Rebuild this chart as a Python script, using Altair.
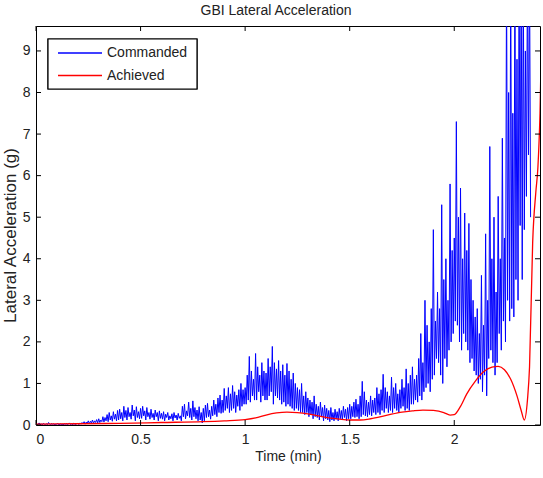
import altair as alt
import pandas as pd

# Commanded lateral acceleration (g), sampled every 0.005 min from t = 0
cmd_step = 0.005
commanded = [
    0.03, 0.00, 0.02, 0.05, 0.01, 0.03, 0.00, 0.04, 0.02, 0.00, 0.03, 0.01, 0.06, 0.02, 0.00, 0.04, 0.01, 0.03, 0.00, 0.02,
    0.02, 0.04, 0.00, 0.03, 0.01, 0.02, 0.00, 0.03, 0.01, 0.04, 0.00, 0.02, 0.05, 0.01, 0.03, 0.00, 0.04, 0.02, 0.01, 0.03,
    0.04, 0.01, 0.05, 0.02, 0.06, 0.03, 0.08, 0.02, 0.07, 0.04, 0.10, 0.03, 0.09, 0.05, 0.12, 0.04, 0.10, 0.06, 0.13, 0.05,
    0.15, 0.06, 0.12, 0.08, 0.20, 0.07, 0.18, 0.10, 0.25, 0.08, 0.30, 0.12, 0.22, 0.09, 0.32, 0.14, 0.26, 0.10, 0.35, 0.12,
    0.38, 0.15, 0.30, 0.10, 0.45, 0.18, 0.35, 0.12, 0.42, 0.20, 0.30, 0.14, 0.48, 0.22, 0.36, 0.10, 0.44, 0.18, 0.32, 0.15,
    0.40, 0.16, 0.45, 0.22, 0.34, 0.12, 0.42, 0.20, 0.30, 0.14, 0.38, 0.18, 0.28, 0.12, 0.36, 0.20, 0.30, 0.10, 0.34, 0.16,
    0.28, 0.14, 0.32, 0.10, 0.26, 0.18, 0.30, 0.12, 0.22, 0.15, 0.27, 0.10, 0.30, 0.17, 0.24, 0.12, 0.28, 0.16, 0.22, 0.10,
    0.45, 0.20, 0.50, 0.15, 0.34, 0.22, 0.55, 0.18, 0.40, 0.12, 0.58, 0.20, 0.42, 0.15, 0.36, 0.10, 0.44, 0.12, 0.30, 0.05,
    0.40, 0.10, 0.48, 0.18, 0.52, 0.20, 0.36, 0.14, 0.45, 0.22, 0.60, 0.25, 0.50, 0.20, 0.65, 0.30, 0.72, 0.28, 0.60, 0.30,
    0.88, 0.35, 0.70, 0.40, 0.90, 0.30, 0.75, 0.35, 0.95, 0.40, 0.80, 0.30, 0.72, 0.45, 0.85, 0.35, 1.00, 0.45, 0.85, 0.50,
    0.90, 0.50, 1.20, 0.60, 1.65, 0.55, 1.30, 0.70, 1.10, 0.60, 1.72, 0.60, 1.40, 0.80, 1.20, 0.55, 1.50, 0.70, 1.30, 0.60,
    1.25, 0.60, 1.60, 0.70, 1.40, 0.80, 1.89, 0.50, 1.50, 0.70, 1.35, 0.65, 1.55, 0.60, 1.30, 0.50, 1.45, 0.55, 1.20, 0.45,
    1.48, 0.50, 1.30, 0.45, 1.10, 0.40, 1.25, 0.35, 1.00, 0.40, 0.90, 0.35, 0.85, 0.30, 1.00, 0.30, 0.70, 0.25, 0.80, 0.30,
    0.65, 0.20, 0.60, 0.25, 0.55, 0.15, 0.70, 0.20, 0.50, 0.18, 0.45, 0.12, 0.55, 0.20, 0.42, 0.10, 0.48, 0.15, 0.40, 0.12,
    0.35, 0.08, 0.42, 0.12, 0.30, 0.10, 0.38, 0.14, 0.32, 0.10, 0.40, 0.15, 0.35, 0.12, 0.45, 0.18, 0.38, 0.10, 0.42, 0.15,
    0.50, 0.15, 0.45, 0.20, 0.55, 0.18, 0.62, 0.20, 0.50, 0.15, 0.70, 0.20, 1.05, 0.25, 0.80, 0.22, 0.60, 0.20, 0.55, 0.25,
    0.70, 0.22, 0.60, 0.30, 0.65, 0.25, 0.90, 0.30, 0.75, 0.25, 0.85, 0.35, 1.22, 0.30, 0.90, 0.40, 0.80, 0.30, 0.70, 0.35,
    1.15, 0.30, 0.90, 0.40, 1.00, 0.35, 0.75, 0.30, 0.85, 0.40, 1.10, 0.45, 0.90, 0.35, 1.35, 0.40, 1.00, 0.35, 1.20, 0.50,
    1.40, 0.50, 1.10, 0.60, 1.20, 0.55, 1.60, 0.70, 2.20, 0.60, 1.50, 0.80, 3.00, 0.90, 2.40, 1.00, 2.00, 0.80, 2.80, 1.10,
    4.70, 1.20, 2.50, 1.60, 3.20, 1.50, 2.80, 1.20, 5.30, 1.00, 3.50, 1.60, 4.00, 1.40, 3.00, 1.80, 5.80, 2.00, 4.20, 2.20,
    4.50, 2.50, 7.30, 2.40, 5.00, 2.00, 5.70, 1.80, 4.00, 2.20, 5.10, 2.00, 4.20, 1.80, 4.85, 1.50, 3.50, 1.60, 3.00, 1.30,
    2.60, 1.20, 2.80, 1.00, 2.20, 1.10, 3.60, 0.80, 2.40, 1.20, 4.60, 0.70, 3.00, 1.60, 6.70, 1.80, 4.00, 1.50, 5.00, 1.20,
    3.20, 1.50, 5.50, 2.20, 4.00, 1.80, 6.90, 2.50, 4.50, 2.00, 11.0, 3.00, 8.00, 2.50, 11.0, 2.80, 7.50, 2.60, 11.0, 3.50,
    8.80, 3.00, 11.0, 4.80, 11.0, 3.50, 11.0, 4.70, 9.00, 5.50, 11.0, 6.50, 11.0, 5.00,
]

# Achieved lateral acceleration (g)
achieved_t = [0.0, 0.2, 0.4, 0.6, 0.8, 0.9, 1.0, 1.05, 1.1, 1.15, 1.2, 1.25,
              1.3, 1.35, 1.4, 1.45, 1.5, 1.55, 1.6, 1.65, 1.7, 1.75, 1.8,
              1.85, 1.9, 1.95, 1.98, 2.0, 2.03, 2.06, 2.1, 2.14, 2.18, 2.21,
              2.24, 2.27, 2.3, 2.32, 2.335, 2.35, 2.36, 2.375, 2.39, 2.40,
              2.41, 2.42]
achieved_g = [0.02, 0.03, 0.04, 0.06, 0.08, 0.10, 0.13, 0.17, 0.24, 0.29,
              0.31, 0.30, 0.27, 0.22, 0.17, 0.14, 0.12, 0.12, 0.15, 0.20,
              0.26, 0.31, 0.34, 0.36, 0.35, 0.30, 0.24, 0.25, 0.45, 0.75,
              1.05, 1.28, 1.39, 1.41, 1.33, 1.10, 0.70, 0.35, 0.12, 0.60,
              1.40, 4.40, 5.60, 6.20, 7.50, 10.0]

series = ["Commanded", "Achieved"]
colors = ["#0000ff", "#ff0000"]
x_ticks = [0, 0.5, 1, 1.5, 2]
y_ticks = list(range(10))

cmd_df = pd.DataFrame({
    "t": [round(i * cmd_step, 4) for i in range(len(commanded))],
    "g": commanded,
})
ach_df = pd.DataFrame({"t": achieved_t, "g": achieved_g})

W, H = 504, 399
FONT = "Liberation Sans"
xs = alt.Scale(domain=[0, 2.41], nice=False, zero=False)
ys = alt.Scale(domain=[0, 9.6], nice=False)

x_axis = alt.Axis(values=x_ticks, format="~g", ticks=False, domain=False,
                  grid=False, labelPadding=7, labelFontSize=14,
                  labelColor="#222", title="Time (min)", titleFontSize=14,
                  titleFontWeight="normal", titleColor="#222", titlePadding=3)
y_axis = alt.Axis(values=y_ticks, format="~g", ticks=False, domain=False,
                  grid=False, labelPadding=6, labelFontSize=14,
                  labelColor="#222", title="Lateral Acceleration (g)",
                  titleFontSize=17, titleFontWeight="normal",
                  titleColor="#222", titlePadding=3, titleY=209)

cmd_line = alt.Chart(cmd_df).mark_line(
    color=colors[0], strokeWidth=1, clip=True, interpolate="linear"
).encode(
    x=alt.X("t:Q", scale=xs, axis=x_axis),
    y=alt.Y("g:Q", scale=ys, axis=y_axis),
)

ach_line = alt.Chart(ach_df).mark_line(
    color=colors[1], strokeWidth=1.3, clip=True, interpolate="monotone"
).encode(
    x=alt.X("t:Q", scale=xs),
    y=alt.Y("g:Q", scale=ys),
)

# Inward tick marks on all four sides of the box
xt = pd.DataFrame({"t": x_ticks})
yt = pd.DataFrame({"g": y_ticks})
tick_style = dict(color="black", strokeWidth=1)
bottom_ticks = alt.Chart(xt).mark_rule(**tick_style).encode(
    x=alt.X("t:Q", scale=xs), y=alt.value(H), y2=alt.value(H - 5))
top_ticks = alt.Chart(xt).mark_rule(**tick_style).encode(
    x=alt.X("t:Q", scale=xs), y=alt.value(0), y2=alt.value(5))
left_ticks = alt.Chart(yt).mark_rule(**tick_style).encode(
    y=alt.Y("g:Q", scale=ys), x=alt.value(0), x2=alt.value(5))
right_ticks = alt.Chart(yt).mark_rule(**tick_style).encode(
    y=alt.Y("g:Q", scale=ys), x=alt.value(W - 5), x2=alt.value(W))

# Legend box in the upper-left corner
legend_box = alt.Chart(pd.DataFrame({"name": series})).mark_rect(
    fill="white", stroke="black", strokeWidth=1.2
).encode(x=alt.value(12), x2=alt.value(161), y=alt.value(13), y2=alt.value(63))

legend_layers = [legend_box]
for i, (name, col) in enumerate(zip(series, colors)):
    row_y = 27 + 22.5 * i
    entry = pd.DataFrame({"name": [name]})
    legend_layers.append(
        alt.Chart(entry).mark_rule(color=col, strokeWidth=1.3).encode(
            x=alt.value(22), x2=alt.value(66), y=alt.value(row_y)))
    legend_layers.append(
        alt.Chart(entry).mark_text(
            align="left", baseline="middle", font=FONT, fontSize=14,
            color="#222"
        ).encode(text="name:N", x=alt.value(71), y=alt.value(row_y)))

chart = alt.layer(
    cmd_line, ach_line, bottom_ticks, top_ticks, left_ticks, right_ticks,
    *legend_layers
).properties(
    width=W, height=H,
    title=alt.TitleParams("GBI Lateral Acceleration", fontSize=14,
                          fontWeight="normal", font=FONT, color="#222",
                          dx=-12, offset=8),
    autosize=alt.AutoSizeParams(type="none"),
    padding={"left": 36, "top": 26, "right": 3, "bottom": 53},
    background="white",
).configure_view(
    stroke="black", strokeWidth=1
).configure_axis(
    labelFont=FONT, titleFont=FONT
).configure_title(
    font=FONT, anchor="middle"
)

chart.save("out.html", embed_options={"renderer": "svg", "actions": False})
